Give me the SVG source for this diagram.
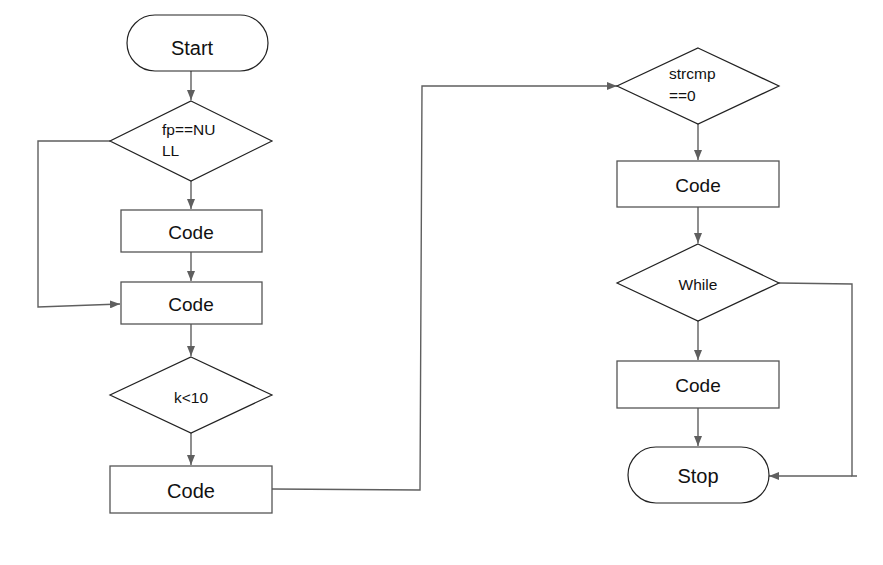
<svg xmlns="http://www.w3.org/2000/svg" width="883" height="565" viewBox="0 0 883 565">
<style>
.term{fill:#fff;stroke:#222;stroke-width:1.2}
.dec{fill:#fff;stroke:#222;stroke-width:1.2}
.proc{fill:#fff;stroke:#555;stroke-width:1.3}
.lbl{font-family:"Liberation Sans",Arial,sans-serif;font-size:19px;fill:#111;text-anchor:middle;dominant-baseline:central}
.big{font-size:20px}
.sm{font-family:"Liberation Sans",Arial,sans-serif;font-size:15.5px;fill:#111}
.smc{text-anchor:middle;dominant-baseline:central}
.con{fill:none;stroke:#5f5f5f;stroke-width:1.4}
</style>
<defs>
<marker id="ah" viewBox="0 0 10 8" refX="10" refY="4" markerWidth="10" markerHeight="8" markerUnits="userSpaceOnUse" orient="auto">
<path d="M0,0 L10,4 L0,8 Z" fill="#5f5f5f"/>
</marker>
</defs>
<rect width="883" height="565" fill="#fff"/>
<g id="connectors">
<path class="con" marker-end="url(#ah)" d="M191,71 V100"/>
<path class="con" marker-end="url(#ah)" d="M191,181 V209"/>
<path class="con" marker-end="url(#ah)" d="M191,252 V281"/>
<path class="con" marker-end="url(#ah)" d="M110,141 H38 V307 L120,304"/>
<path class="con" marker-end="url(#ah)" d="M191,324 V356"/>
<path class="con" marker-end="url(#ah)" d="M191,433 V465"/>
<path class="con" marker-end="url(#ah)" d="M272,489 L420,490 L422,86 H617"/>
<path class="con" marker-end="url(#ah)" d="M698,123 V160"/>
<path class="con" marker-end="url(#ah)" d="M698,207 V243"/>
<path class="con" marker-end="url(#ah)" d="M698,320 V360"/>
<path class="con" marker-end="url(#ah)" d="M698,408 V446"/>
<path class="con" d="M779,283 L852,284 V476 H857"/>
<path class="con" marker-end="url(#ah)" d="M852,476 H769"/>
</g>
<g id="start">
<rect class="term" x="127" y="15" width="141" height="56" rx="28"/>
<text class="lbl big" x="192" y="48">Start</text>
</g>
<g id="dec-fp">
<polygon class="dec" points="191,101 272,141 191,181 110,141"/>
<text class="sm" x="162" y="135">fp==NU</text>
<text class="sm" x="162" y="156">LL</text>
</g>
<g id="code1">
<rect class="proc" x="121" y="210" width="141" height="42"/>
<text class="lbl" x="191" y="232">Code</text>
</g>
<g id="code2">
<rect class="proc" x="121" y="282" width="141" height="42"/>
<text class="lbl" x="191" y="304">Code</text>
</g>
<g id="dec-k">
<polygon class="dec" points="191,357 272,395 191,433 110,395"/>
<text class="sm smc" x="191" y="397">k&lt;10</text>
</g>
<g id="code3">
<rect class="proc" x="110" y="466" width="162" height="47"/>
<text class="lbl big" x="191" y="491">Code</text>
</g>
<g id="dec-strcmp">
<polygon class="dec" points="698,48 779,86 698,124 617,86"/>
<text class="sm" x="669" y="79">strcmp</text>
<text class="sm" x="669" y="101">==0</text>
</g>
<g id="code4">
<rect class="proc" x="617" y="161" width="162" height="46"/>
<text class="lbl" x="698" y="185">Code</text>
</g>
<g id="dec-while">
<polygon class="dec" points="698,244 779,283 698,321 617,283"/>
<text class="sm smc" x="698" y="284">While</text>
</g>
<g id="code5">
<rect class="proc" x="617" y="361" width="162" height="47"/>
<text class="lbl" x="698" y="385">Code</text>
</g>
<g id="stop">
<rect class="term" x="628" y="447" width="141" height="56" rx="28"/>
<text class="lbl big" x="698" y="476">Stop</text>
</g>
</svg>
